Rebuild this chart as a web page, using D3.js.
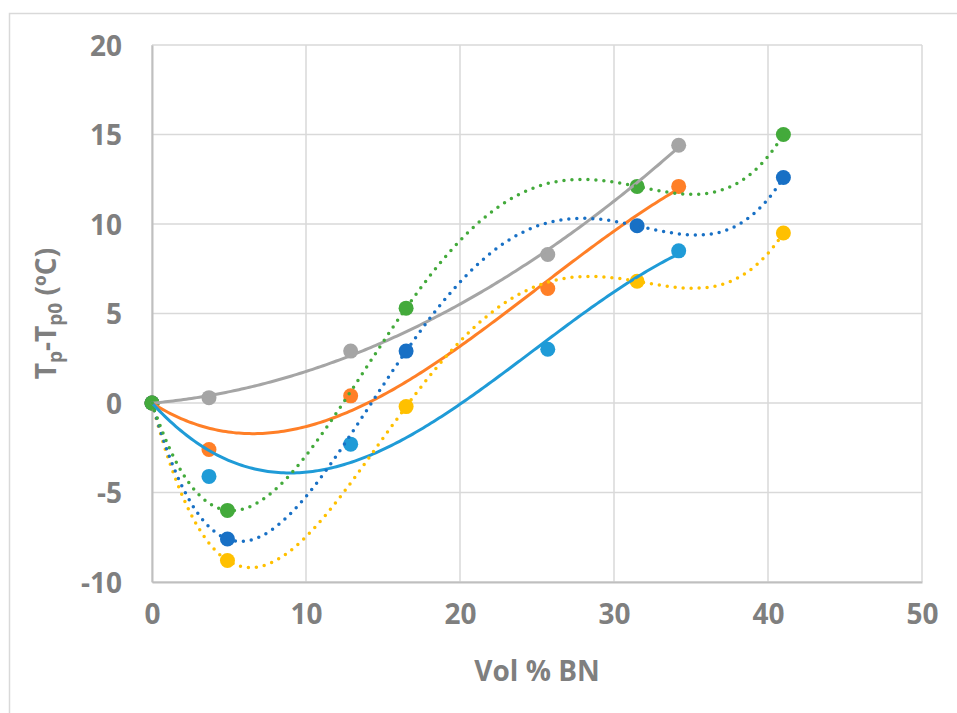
<!DOCTYPE html>
<html>
<head>
<meta charset="utf-8">
<script src="https://cdn.jsdelivr.net/npm/d3@7"></script>
<style>
  body { margin: 0; background: #fff; }
  #chart { width: 957px; height: 713px; }
  text { font-family: "Open Sans", "Liberation Sans", sans-serif; font-weight: 700; fill: #7f7f7f; }
</style>
</head>
<body>
<div id="chart"></div>
<script>
// volume fractions for the two sample sets
const volA = [0, 3.7, 12.9, 25.7, 34.2];
const volB = [0, 4.9, 16.5, 31.5, 41];

// Tp - Tp0 values
const grayVals   = [0, 0.3, 2.9, 8.3, 14.4];
const orangeVals = [0, -2.6, 0.4, 6.4, 12.1];
const cyanVals   = [0, -4.1, -2.3, 3.0, 8.5];
const greenVals  = [0, -6.0, 5.3, 12.1, 15.0];
const blueVals   = [0, -7.6, 2.9, 9.9, 12.6];
const goldVals   = [0, -8.8, -0.2, 6.8, 9.5];

const xTicks = [0, 10, 20, 30, 40, 50];
const yTicks = [-10, -5, 0, 5, 10, 15, 20];

// order = polynomial trendline order, zero = intercept forced through 0
// listed in drawing order (green ends up on top at the origin)
const series = [
  {x: volA, y: grayVals,   color: "#a5a5a5", order: 2, zero: false, dotted: false},
  {x: volA, y: orangeVals, color: "#ff7f27", order: 3, zero: true,  dotted: false},
  {x: volA, y: cyanVals,   color: "#1f9bd7", order: 3, zero: true,  dotted: false},
  {x: volB, y: goldVals,   color: "#ffc000", order: 4, zero: false, dotted: true},
  {x: volB, y: blueVals,   color: "#1870c5", order: 4, zero: false, dotted: true},
  {x: volB, y: greenVals,  color: "#43aa3b", order: 4, zero: false, dotted: true}
];

// least squares polynomial trendline (x scaled by 10 to keep things stable)
function polyFit(xs, ys, order, zero) {
  const pows = d3.range(zero ? 1 : 0, order + 1);
  const n = pows.length;
  const A = [];
  for (let i = 0; i < n; i++) {
    A.push(new Array(n + 1).fill(0));
  }
  xs.forEach((xv, k) => {
    const t = xv / 10;
    for (let i = 0; i < n; i++) {
      for (let j = 0; j < n; j++) A[i][j] += Math.pow(t, pows[i] + pows[j]);
      A[i][n] += ys[k] * Math.pow(t, pows[i]);
    }
  });
  for (let c = 0; c < n; c++) {
    let p = c;
    for (let r = c + 1; r < n; r++) if (Math.abs(A[r][c]) > Math.abs(A[p][c])) p = r;
    [A[c], A[p]] = [A[p], A[c]];
    for (let r = 0; r < n; r++) {
      if (r === c) continue;
      const f = A[r][c] / A[c][c];
      for (let k = c; k <= n; k++) A[r][k] -= f * A[c][k];
    }
  }
  const coef = A.map((row, i) => row[n] / row[i]);
  return xv => coef.reduce((s, cf, i) => s + cf * Math.pow(xv / 10, pows[i]), 0);
}

const W = 957, H = 713;
const margin = {top: 45, right: 35, bottom: 131, left: 152};
const width = W - margin.left - margin.right;
const height = H - margin.top - margin.bottom;

const svg = d3.select("#chart").append("svg")
  .attr("width", W)
  .attr("height", H);

// outer chart border
svg.append("rect")
  .attr("x", 9.5).attr("y", 13.5)
  .attr("width", 960).attr("height", 710)
  .attr("fill", "none")
  .attr("stroke", "#d9d9d9")
  .attr("stroke-width", 1.5);

const chart = svg.append("g")
  .attr("transform", `translate(${margin.left},${margin.top})`);

const x = d3.scaleLinear().domain([0, 50]).range([0, width]);
const y = d3.scaleLinear().domain([-10, 20]).range([height, 0]);

// grid
chart.append("g")
  .selectAll("line")
  .data(xTicks)
  .join("line")
  .attr("x1", d => x(d)).attr("x2", d => x(d))
  .attr("y1", 0).attr("y2", height)
  .attr("stroke", "#d9d9d9").attr("stroke-width", 1.5);

chart.append("g")
  .selectAll("line")
  .data(yTicks)
  .join("line")
  .attr("x1", 0).attr("x2", width)
  .attr("y1", d => y(d)).attr("y2", d => y(d))
  .attr("stroke", "#d9d9d9").attr("stroke-width", 1.5);

// axes (plain hyphen for negatives, like Excel)
const fmt = d => String(d);
const xAxis = chart.append("g")
  .attr("transform", `translate(0,${height})`)
  .call(d3.axisBottom(x).tickValues(xTicks).tickFormat(fmt).tickSize(0).tickPadding(22));
const yAxis = chart.append("g")
  .call(d3.axisLeft(y).tickValues(yTicks).tickFormat(fmt).tickSize(0).tickPadding(30));

[xAxis, yAxis].forEach(ax => {
  ax.attr("font-family", null);
  ax.select(".domain").attr("stroke", "#bfbfbf").attr("stroke-width", 2);
  ax.selectAll("text").attr("font-size", 28).attr("fill", "#7f7f7f");
});
yAxis.selectAll("text").attr("dy", "0.36em");

// markers
series.forEach(s => {
  chart.append("g")
    .selectAll("circle")
    .data(s.x.map((xv, i) => [xv, s.y[i]]))
    .join("circle")
    .attr("cx", d => x(d[0]))
    .attr("cy", d => y(d[1]))
    .attr("r", 7.5)
    .attr("fill", s.color);
});

// trendlines
const line = d3.line().x(d => x(d[0])).y(d => y(d[1]));
series.forEach(s => {
  const f = polyFit(s.x, s.y, s.order, s.zero);
  const xMax = d3.max(s.x);
  const pts = d3.range(0, 201).map(i => {
    const xv = xMax * i / 200;
    return [xv, f(xv)];
  });
  chart.append("path")
    .attr("d", line(pts))
    .attr("fill", "none")
    .attr("stroke", s.color)
    .attr("stroke-width", s.dotted ? 3.5 : 3)
    .attr("stroke-linecap", "round")
    .attr("stroke-dasharray", s.dotted ? "0 8" : null);
});

// axis titles
svg.append("text")
  .attr("x", margin.left + width / 2)
  .attr("y", 681)
  .attr("text-anchor", "middle")
  .attr("font-size", 28)
  .text("Vol % BN");

const yt = svg.append("text")
  .attr("transform", `translate(56,${margin.top + height / 2}) rotate(-90)`)
  .attr("text-anchor", "middle")
  .attr("font-size", 28);
yt.append("tspan").text("T");
yt.append("tspan").attr("font-size", 19).attr("dy", 6).text("p");
yt.append("tspan").attr("dy", -6).text("-T");
yt.append("tspan").attr("font-size", 19).attr("dy", 6).text("p0");
yt.append("tspan").attr("dy", -6).text(" (ºC)");
</script>
</body>
</html>
